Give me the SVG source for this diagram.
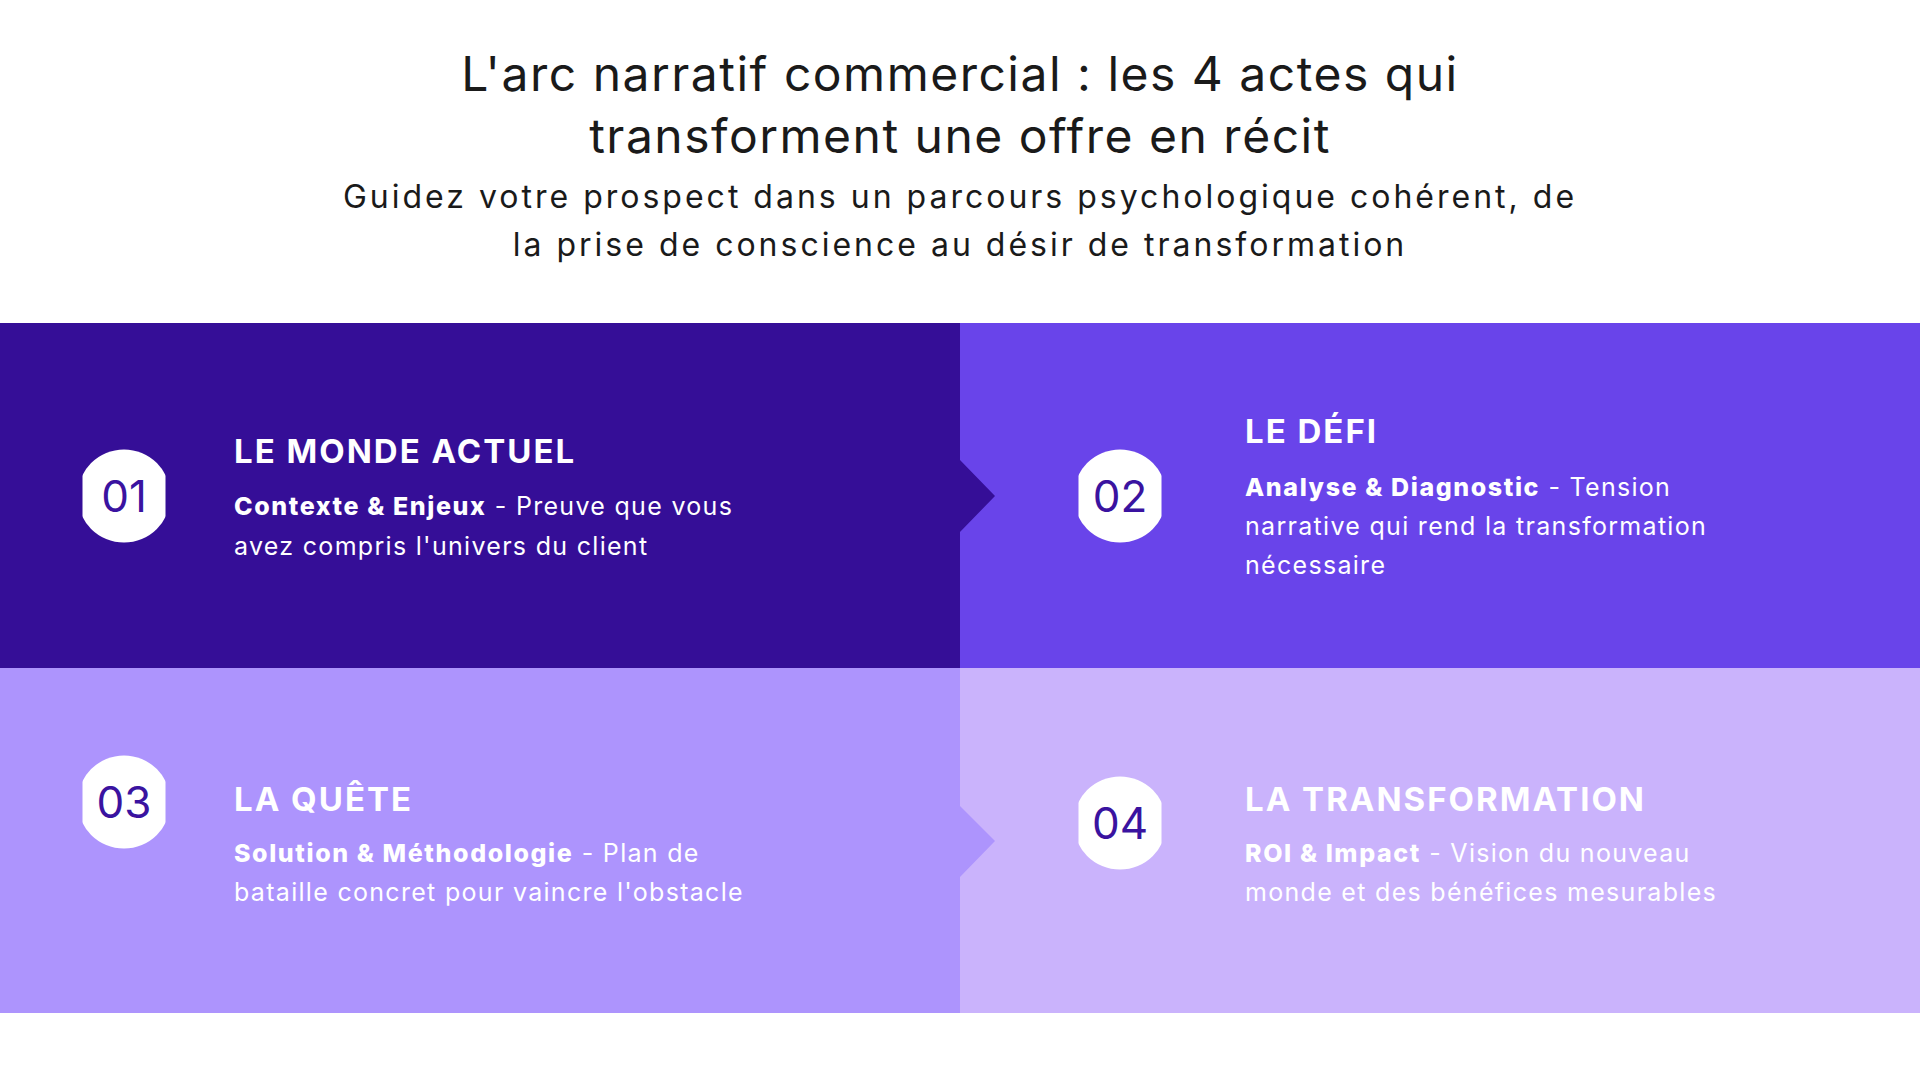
<svg xmlns="http://www.w3.org/2000/svg" width="1920" height="1080" viewBox="0 0 1920 1080">
<style>
.title{font-family:Inter,"Noto Sans",sans-serif;font-size:48px;fill:#1a1a1a;letter-spacing:1.5px;text-anchor:middle}
.sub{font-family:Inter,"Noto Sans",sans-serif;font-size:32px;fill:#1a1a1a;letter-spacing:3px;text-anchor:middle}
.head{font-family:Inter,"Noto Sans",sans-serif;font-size:33px;font-weight:700;fill:#ffffff;letter-spacing:2px}
.body{font-family:Inter,"Noto Sans",sans-serif;font-size:25px;fill:#ffffff;letter-spacing:1.3px}
.body tspan.b{font-weight:800;letter-spacing:1.6px}
.num{font-family:Inter,"Noto Sans",sans-serif;font-size:44px;fill:#3a13a0;text-anchor:middle}
.badge{fill:#ffffff}
</style>
<defs>
<clipPath id="bclip"><rect x="-41.5" y="-50" width="83" height="100"/></clipPath>
<g id="badge"><circle cx="0" cy="0" r="46.5" class="badge" clip-path="url(#bclip)"/></g>
</defs>
<rect width="1920" height="1080" fill="#ffffff"/>
<g id="header">
<text class="title" x="960" y="91">L'arc narratif commercial : les 4 actes qui</text>
<text class="title" x="960" y="153">transforment une offre en récit</text>
<text class="sub" x="960" y="208">Guidez votre prospect dans un parcours psychologique cohérent, de</text>
<text class="sub" x="960" y="256">la prise de conscience au désir de transformation</text>
</g>
<g id="node-02">
<rect x="960" y="323" width="960" height="345" fill="#6944ea"/>
<use href="#badge" x="1120" y="496"/>
<text class="num" x="1120" y="512">02</text>
<text class="head" x="1245" y="443">LE DÉFI</text>
<text class="body" x="1245" y="496"><tspan class="b">Analyse &amp; Diagnostic</tspan> - Tension</text>
<text class="body" x="1245" y="535">narrative qui rend la transformation</text>
<text class="body" x="1245" y="574">nécessaire</text>
</g>
<g id="node-04">
<rect x="960" y="668" width="960" height="345" fill="#cab3fc"/>
<use href="#badge" x="1120" y="823"/>
<text class="num" x="1120" y="839">04</text>
<text class="head" x="1245" y="811">LA TRANSFORMATION</text>
<text class="body" x="1245" y="862"><tspan class="b">ROI &amp; Impact</tspan> - Vision du nouveau</text>
<text class="body" x="1245" y="901">monde et des bénéfices mesurables</text>
</g>
<g id="node-01">
<path d="M0 323H960V460L995 496L960 532V668H0Z" fill="#350e97"/>
<use href="#badge" x="124" y="496"/>
<text class="num" x="124" y="512">01</text>
<text class="head" x="234" y="463">LE MONDE ACTUEL</text>
<text class="body" x="234" y="515"><tspan class="b">Contexte &amp; Enjeux</tspan> - Preuve que vous</text>
<text class="body" x="234" y="555">avez compris l'univers du client</text>
</g>
<g id="node-03">
<path d="M0 668H960V806L995 841L960 877V1013H0Z" fill="#ad94fd"/>
<use href="#badge" x="124" y="802"/>
<text class="num" x="124" y="818">03</text>
<text class="head" x="234" y="811">LA QUÊTE</text>
<text class="body" x="234" y="862"><tspan class="b">Solution &amp; Méthodologie</tspan> - Plan de</text>
<text class="body" x="234" y="901">bataille concret pour vaincre l'obstacle</text>
</g>
<g id="connectors"></g>
</svg>
